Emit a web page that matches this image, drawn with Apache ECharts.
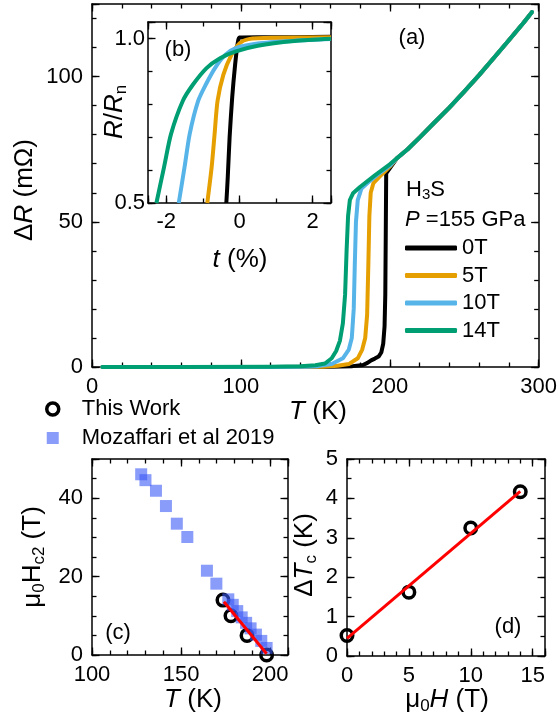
<!DOCTYPE html>
<html><head><meta charset="utf-8">
<script src="https://cdn.jsdelivr.net/npm/echarts@6/dist/echarts.min.js"></script>
<style>html,body{margin:0;padding:0;background:#fff}#c{width:560px;height:722px}</style>
</head><body><div id="c"></div>
<script>
// ---------------- data ----------------
const fieldLabels = ['0T', '5T', '10T', '14T'];
const fieldColors = ['#000000', '#E69F00', '#56B4E9', '#009E73'];

// panel (a): ΔR (mΩ) vs T (K)
const normalState = [[205, 72], [212, 75], [220, 79], [230, 84.2], [240, 89.3], [250, 94.8], [260, 100.5], [270, 106.5], [280, 112.5], [290, 118.6], [295.5, 122.2]];
const curve0T = [[7, 0], [60, 0], [120, 0], [160, 0.1], [175, 0.3], [182, 0.7], [185, 1.4], [187.5, 2.3], [190, 2.9], [192.5, 3.6], [194.3, 5], [195.6, 8], [196.5, 14], [197, 25], [197.3, 45], [197.6, 66.7], [200, 68.4]];
const curve5T = [[7, 0], [60, 0], [120, 0], [155, 0.1], [165, 0.4], [172.5, 1], [178.5, 3], [181.5, 6], [183.5, 10], [184.8, 18], [185.6, 35], [186.3, 52], [187.2, 60], [189, 63.3], [193, 65.5], [197, 67.5], [200, 69]];
const curve10T = [[7, 0], [60, 0], [120, 0], [145, 0.1], [152, 0.3], [161, 1], [168.5, 3], [172.5, 6], [174.5, 10], [175.8, 20], [176.5, 35], [177.3, 50], [178.5, 57.5], [181, 61.5], [186, 63.8], [192, 66.3], [200, 69.3]];
const curve14T = [[7, 0], [60, 0], [120, 0.1], [140, 0.3], [150, 0.6], [156.5, 1.2], [161, 3], [164, 5.5], [166.5, 9], [168.5, 15], [170, 25], [171, 40], [172, 52], [173.2, 57.5], [175.3, 59.8], [180, 62], [190, 66], [200, 69.8]];

// panel (b): R/Rn vs t (%)
const inset0T = [[-0.36, 0.5], [-0.32, 0.58], [-0.27, 0.7], [-0.2, 0.82], [-0.12, 0.92], [-0.05, 0.985], [0, 1.003], [0.5, 1.004], [1.5, 1.004], [2.5, 1.005]];
const inset5T = [[-0.88, 0.5], [-0.76, 0.61], [-0.68, 0.71], [-0.6, 0.81], [-0.44, 0.89], [-0.22, 0.95], [0, 0.985], [0.25, 0.998], [1, 1.002], [2.5, 1.004]];
const inset10T = [[-1.66, 0.5], [-1.5, 0.61], [-1.36, 0.71], [-1.13, 0.81], [-0.92, 0.86], [-0.67, 0.91], [-0.39, 0.95], [-0.07, 0.972], [0.5, 0.985], [1.5, 0.993], [2.5, 0.998]];
const inset14T = [[-2.27, 0.5], [-2.06, 0.61], [-1.87, 0.71], [-1.55, 0.81], [-1.27, 0.86], [-0.9, 0.91], [-0.53, 0.94], [-0.12, 0.96], [0.5, 0.978], [1.5, 0.992], [2.5, 0.999]];

// panel (c): μ0Hc2 (T) vs T (K)
const thisWorkT = [173.5, 178, 187, 198];
const thisWorkH = [14, 10, 5, 0];
const mozT = [127.6, 130, 135.9, 141.5, 147.6, 153.5, 164.5, 169.8, 176.5, 179, 181.5, 184, 186.5, 189, 192, 195, 198];
const mozH = [46.1, 44.6, 41.9, 38, 33.5, 30.1, 21.5, 18.2, 14.2, 12.8, 11.2, 9.6, 8.2, 6.8, 5.2, 3.6, 1.8];
const fitC = [[174, 13.6], [198, 0.3]];

// panel (d): ΔTc (K) vs μ0H (T)
const fieldT = [0, 5, 10, 14];
const deltaTc = [0.52, 1.62, 3.25, 4.17];
const fitD = [[0, 0.45], [14, 4.18]];

// ---------------- helpers ----------------
const FONT = '"Liberation Sans", Arial, Helvetica, sans-serif';
const isMul = (v, s) => { const r = v / s; return Math.abs(r - Math.round(r)) < 1e-6; };

function axisSet(dim, grid, min, max, major, minor, fmt, margin) {
  const pos = dim === 'x' ? ['bottom', 'top'] : ['left', 'right'];
  const mk = (p, step, isMajor, withLabel) => ({
    type: 'value', gridIndex: grid, position: p, min: min, max: max,
    minInterval: step, maxInterval: step,
    splitLine: { show: false },
    axisLine: { show: isMajor, onZero: false, lineStyle: { color: '#000', width: 1.5 } },
    axisTick: { show: true, inside: true, length: isMajor ? 7.5 : 4.5, lineStyle: { color: '#000', width: 1.3 } },
    axisLabel: withLabel ? { show: true, margin: margin, color: '#000', fontSize: 22, fontFamily: FONT,
      formatter: v => isMul(v, major) ? fmt(v) : '' } : { show: false }
  });
  return [mk(pos[0], major, true, true), mk(pos[0], minor, false, false), mk(pos[1], major, true, false), mk(pos[1], minor, false, false)];
}

function rich(size) {
  const sub = Math.round(size * 0.66);
  return {
    i: { fontSize: size, fontFamily: FONT, fontStyle: 'italic', fill: '#000' },
    s: { fontSize: sub, fontFamily: FONT, fill: '#000', padding: [Math.round(size * 0.45), 0, 0, 0] },
    si: { fontSize: sub, fontFamily: FONT, fontStyle: 'italic', fill: '#000', padding: [Math.round(size * 0.45), 0, 0, 0] }
  };
}
function txt(x, y, text, size, opt) {
  opt = opt || {};
  return {
    type: 'text', x: x, y: y, rotation: opt.rot || 0, z: 50,
    style: { text: text, rich: rich(size), fontSize: size, fontFamily: FONT, fill: '#000',
      align: opt.align || 'center', verticalAlign: 'middle' }
  };
}

// ---------------- option ----------------
const xAxes = [].concat(
  axisSet('x', 0, 0, 300, 100, 20, v => String(v), 9),
  axisSet('x', 1, -2.5, 2.5, 2, 1, v => String(v), 8),
  axisSet('x', 2, 100, 210, 50, 10, v => String(v), 9),
  axisSet('x', 3, 0, 16, 5, 1, v => String(v), 9)
);
const yAxes = [].concat(
  axisSet('y', 0, 0, 125, 50, 10, v => String(v), 9),
  axisSet('y', 1, 0.5, 1.05, 0.5, 0.1, v => v.toFixed(1), 3),
  axisSet('y', 2, 0, 50, 20, 5, v => String(v), 9),
  axisSet('y', 3, 0, 5, 1, 0.5, v => String(v), 9)
);

const mainCurves = [curve0T, curve5T, curve10T, curve14T];
const insetCurves = [inset0T, inset5T, inset10T, inset14T];

const series = [];
mainCurves.forEach((c, i) => {
  const d = c.concat(normalState);
  series.push({ name: fieldLabels[i], type: 'line', xAxisIndex: 0, yAxisIndex: 0, data: d,
    symbol: 'none', showSymbol: false, clip: false, color: fieldColors[i],
    lineStyle: { width: 4, color: fieldColors[i], cap: 'round', join: 'round' }, z: 2 + i });
});
insetCurves.forEach((c, i) => {
  series.push({ name: 'inset ' + fieldLabels[i], type: 'line', xAxisIndex: 4, yAxisIndex: 4, data: c,
    symbol: 'none', showSymbol: false, clip: true, smooth: 0.25, color: fieldColors[i],
    lineStyle: { width: 4, color: fieldColors[i], join: 'round' }, z: 2 + i });
});
series.push({ name: 'This Work', type: 'scatter', xAxisIndex: 8, yAxisIndex: 8, clip: false,
  data: thisWorkT.map((t, i) => [t, thisWorkH[i]]), symbol: 'circle', symbolSize: 11.5,
  itemStyle: { color: 'rgba(255,255,255,0)', borderColor: '#000', borderWidth: 3.5, opacity: 1 }, z: 3 });
series.push({ name: 'Mozaffari et al 2019', type: 'scatter', xAxisIndex: 8, yAxisIndex: 8, clip: false,
  data: mozT.map((t, i) => [t, mozH[i]]), symbol: 'rect', symbolSize: 12,
  itemStyle: { color: 'rgba(60,90,245,0.6)', opacity: 1 }, z: 4 });
series.push({ name: 'fit c', type: 'line', xAxisIndex: 8, yAxisIndex: 8, data: fitC, symbol: 'none',
  lineStyle: { width: 3, color: '#ff0000' }, color: '#ff0000', z: 5 });
series.push({ name: 'ΔTc', type: 'scatter', xAxisIndex: 12, yAxisIndex: 12, clip: false,
  data: fieldT.map((h, i) => [h, deltaTc[i]]), symbol: 'circle', symbolSize: 11.5,
  itemStyle: { color: 'rgba(255,255,255,0)', borderColor: '#000', borderWidth: 3.5, opacity: 1 }, z: 3 });
series.push({ name: 'fit d', type: 'line', xAxisIndex: 12, yAxisIndex: 12, data: fitD, symbol: 'none',
  lineStyle: { width: 3, color: '#ff0000' }, color: '#ff0000', z: 5 });

const option = {
  animation: false,
  backgroundColor: '#fff',
  textStyle: { fontFamily: FONT },
  grid: [
    { left: 92, top: 4, width: 449, height: 363 },
    { left: 148, top: 22, width: 183, height: 181, show: true, backgroundColor: '#fff', borderWidth: 0 },
    { left: 92, top: 459, width: 196, height: 196 },
    { left: 347, top: 459, width: 198, height: 197 }
  ],
  xAxis: xAxes,
  yAxis: yAxes,
  legend: [
    { data: fieldLabels, orient: 'vertical', left: 405, top: 237, padding: 0, itemWidth: 52, itemHeight: 5,
      icon: 'roundRect', itemGap: 5.5, selectedMode: false,
      textStyle: { fontSize: 22, fontFamily: FONT, color: '#000' } },
    { data: [{ name: 'This Work', itemStyle: { color: '#fff', borderColor: '#000', borderWidth: 3.5, opacity: 1 } },
             { name: 'Mozaffari et al 2019', itemStyle: { borderWidth: 0, opacity: 1 } }],
      orient: 'vertical', left: 45, top: 398, padding: 0, itemWidth: 12, itemHeight: 12, itemGap: 7,
      selectedMode: false,
      textStyle: { fontSize: 22, fontFamily: FONT, color: '#000', padding: [0, 0, 0, 18] } }
  ],
  graphic: [
    txt(25, 190, 'Δ{i|R} (mΩ)', 26, { rot: Math.PI / 2 }),
    txt(318, 412, '{i|T} (K)', 26),
    txt(115, 112, '{i|R}/{i|R}{s|n}', 26, { rot: Math.PI / 2 }),
    txt(240, 260, '{i|t} (%)', 26),
    txt(33, 557, 'μ{s|0}H{s|c2} (T)', 26, { rot: Math.PI / 2 }),
    txt(193, 700, '{i|T} (K)', 26),
    txt(305, 555, 'Δ{i|T}{s|c} (K)', 26, { rot: Math.PI / 2 }),
    txt(447, 700, 'μ{s|0}{i|H} (T)', 26),
    txt(412, 38, '(a)', 22),
    txt(178, 50, '(b)', 22),
    txt(118, 633, '(c)', 22),
    txt(508, 627, '(d)', 22),
    txt(406, 190, 'H{s|3}S', 22, { align: 'left' }),
    txt(405, 220, '{i|P} =155 GPa', 22, { align: 'left' })
  ],
  series: series
};

const chart = echarts.init(document.getElementById('c'), null, { renderer: 'canvas' });
chart.setOption(option);
</script></body></html>
